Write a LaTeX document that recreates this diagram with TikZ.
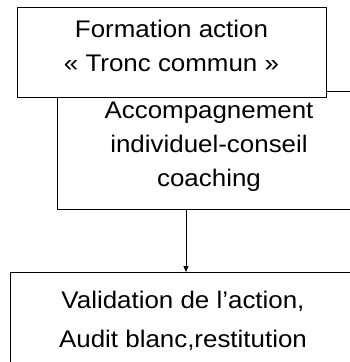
\documentclass[tikz,border=0pt]{standalone}
\usepackage{fontspec}
\setmainfont{Liberation Sans}[FakeStretch=1.08]
\usetikzlibrary{arrows.meta}
\tikzset{
  box/.style={draw=black, line width=0.9pt, fill=white, inner sep=0pt},
  txt/.style={anchor=base, inner sep=0pt, font=\fontsize{24}{28}\selectfont},
  link/.style={draw=black, line width=0.9pt, -{Triangle[length=6pt,width=5pt]}}
}
\begin{document}
\begin{tikzpicture}[x=1pt,y=1pt]
\useasboundingbox (0,0) rectangle (350,-362);
\clip (0,0) rectangle (350,-362);
% box 2 (behind box 1)
\node[box, minimum width=303.5pt, minimum height=118.5pt] (b2) at (209.25,-150.25) {};
% box 1
\node[box, minimum width=309pt, minimum height=90pt] (b1) at (171.5,-52.5) {};
% box 3
\node[box, minimum width=345pt, minimum height=127pt] (b3) at (182.5,-336) {};
% texts
\node[txt] (t1) at (171.5,-37) {Formation action};
\node[txt] (t2) at (171.5,-71) {« Tronc commun »};
\node[txt] (t3) at (209,-118) {Accompagnement};
\node[txt] (t4) at (209,-152) {individuel-conseil};
\node[txt] (t5) at (209,-186) {coaching};
\node[txt] (t6) at (183,-308) {Validation de l’action,};
\node[txt] (t7) at (183,-347) {Audit blanc,restitution};
% connector
\coordinate (ax) at (186,0);
\draw[link] (b2.south -| ax) -- (b3.north -| ax);
\end{tikzpicture}
\end{document}
